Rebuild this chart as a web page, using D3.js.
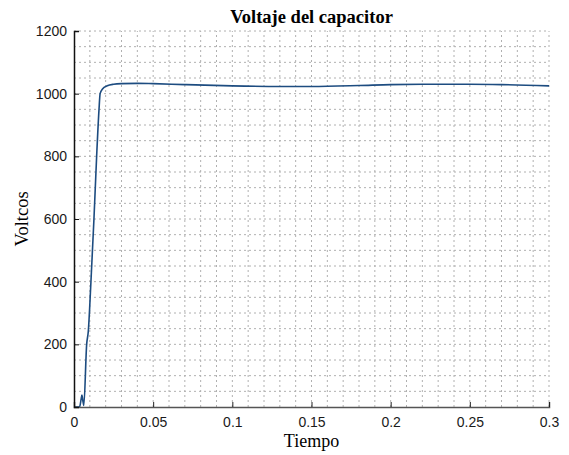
<!DOCTYPE html>
<html>
<head>
<meta charset="utf-8">
<script src="https://cdn.jsdelivr.net/npm/d3@7"></script>
<style>
  body { margin: 0; background: #fff; }
  .tick text { font-family: "Liberation Sans", Arial, sans-serif; font-size: 14px; fill: #1a1a1a; }
</style>
</head>
<body>
<script>
// time (s) and capacitor voltage (V)
var tiempo = [0, 0.0035, 0.0045, 0.005, 0.0056, 0.0062, 0.008, 0.009, 0.0107, 0.0126, 0.0143, 0.0158, 0.0165, 0.018, 0.021, 0.025, 0.03, 0.04, 0.05, 0.07, 0.1, 0.13, 0.15, 0.18, 0.2, 0.22, 0.25, 0.27, 0.3];
var voltios = [0, 0, 25, 38, 20, 5, 200, 240, 400, 600, 800, 950, 1000, 1015, 1025, 1030, 1032, 1033, 1032, 1029, 1025, 1023, 1023, 1026, 1029, 1030, 1030, 1029, 1025];

var xTicks = [0, 0.05, 0.1, 0.15, 0.2, 0.25, 0.3];
var yTicks = [0, 200, 400, 600, 800, 1000, 1200];

var W = 569, H = 455;
var m = { left: 74, right: 20, top: 31, bottom: 48 };

var svg = d3.select("body").append("svg")
  .attr("width", W)
  .attr("height", H)

var x = d3.scaleLinear().domain([0, 0.3]).range([m.left, W - m.right]);
var y = d3.scaleLinear().domain([0, 1200]).range([H - m.bottom, m.top]);

// minor grid (every 0.01 s and 50 V)
var xMinor = d3.range(0, 31).map(function (i) { return i / 100; });
var yMinor = d3.range(0, 25).map(function (i) { return i * 50; });

svg.append("g").selectAll("line")
  .data(xMinor.slice(1))
  .enter().append("line")
  .attr("x1", function (d) { return x(d); })
  .attr("x2", function (d) { return x(d); })
  .attr("y1", y(0))
  .attr("y2", y(1200))
  .attr("stroke", "#b0b0b0")
  .attr("stroke-width", 1)
  .attr("stroke-dasharray", "2,3")

svg.append("g").selectAll("line")
  .data(yMinor.slice(1))
  .enter().append("line")
  .attr("x1", x(0))
  .attr("x2", x(0.3))
  .attr("y1", function (d) { return y(d); })
  .attr("y2", function (d) { return y(d); })
  .attr("stroke", "#b0b0b0")
  .attr("stroke-width", 1)
  .attr("stroke-dasharray", "2,3")

// the curve
var line = d3.line()
  .x(function (d, i) { return x(tiempo[i]); })
  .y(function (d) { return y(d); })
  .curve(d3.curveMonotoneX);

svg.append("path")
  .datum(voltios)
  .attr("d", line)
  .attr("fill", "none")
  .attr("stroke", "#1d4c80")
  .attr("stroke-width", 1.6)

// axes, ticks pointing inward
var xAxis = svg.append("g")
  .attr("transform", "translate(0," + y(0) + ")")
  .call(d3.axisBottom(x).tickValues(xTicks).tickSize(-5).tickPadding(10)
    .tickFormat(function (d) { return String(d); }));
xAxis.select(".domain").attr("stroke", "#555").attr("stroke-width", 1.5);
xAxis.selectAll(".tick line").attr("stroke", "#222");

var yAxis = svg.append("g")
  .attr("transform", "translate(" + x(0) + ",0)")
  .call(d3.axisLeft(y).tickValues(yTicks).tickSize(-5).tickPadding(7)
    .tickFormat(function (d) { return String(d); }));
yAxis.select(".domain").attr("stroke", "#111").attr("stroke-width", 1.5);
yAxis.selectAll(".tick line").attr("stroke", "#111");

// texts
svg.append("text")
  .attr("x", (m.left + W - m.right) / 2)
  .attr("y", 23)
  .attr("text-anchor", "middle")
  .style("font-family", "'Liberation Serif', 'Times New Roman', serif")
  .style("font-weight", "bold")
  .style("font-size", "18.5px")
  .text("Voltaje del capacitor");

svg.append("text")
  .attr("x", (m.left + W - m.right) / 2)
  .attr("y", 447)
  .attr("text-anchor", "middle")
  .style("font-family", "'Liberation Serif', 'Times New Roman', serif")
  .style("font-size", "18px")
  .text("Tiempo");

svg.append("text")
  .attr("transform", "translate(28," + y(600) + ") rotate(-90)")
  .attr("text-anchor", "middle")
  .style("font-family", "'Liberation Serif', 'Times New Roman', serif")
  .style("font-size", "18.5px")
  .text("Voltcos");
</script>
</body>
</html>
